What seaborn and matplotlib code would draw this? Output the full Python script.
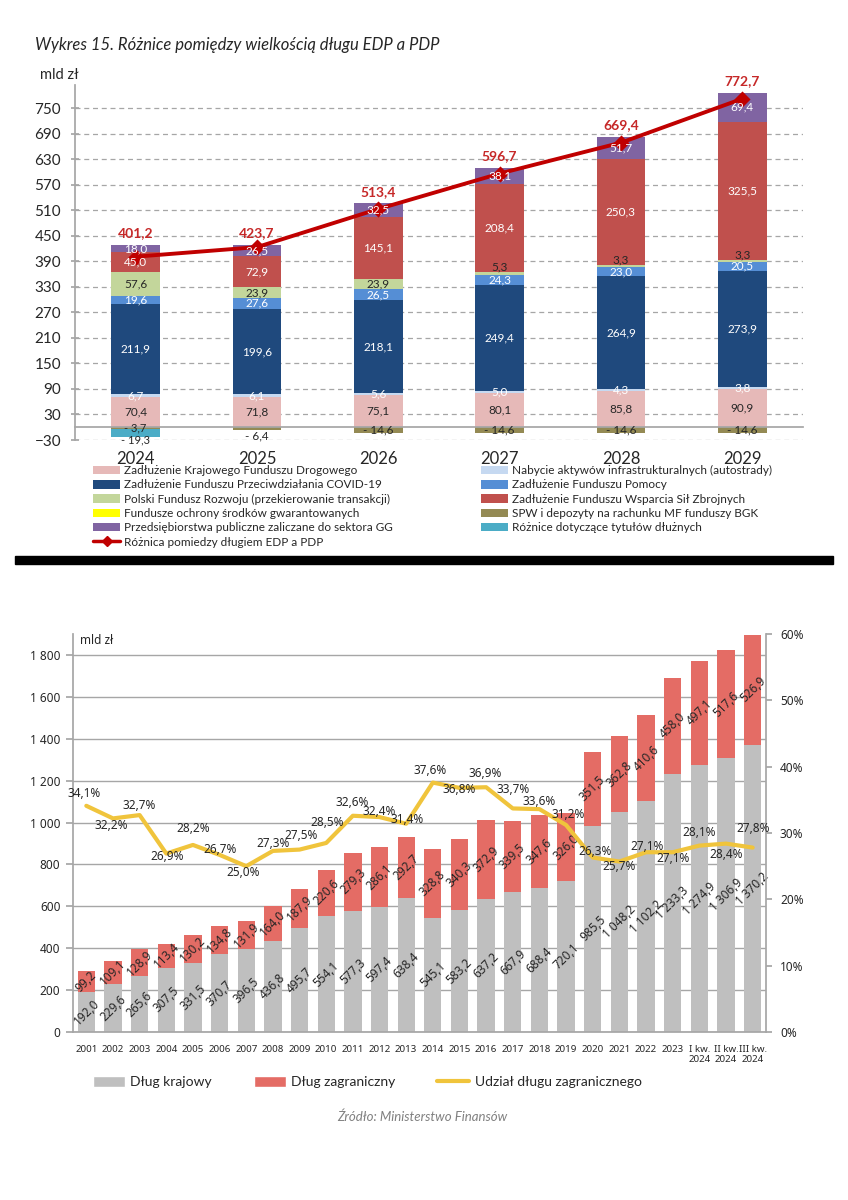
import numpy as np
import matplotlib
matplotlib.use("Agg")
import matplotlib.pyplot as plt
import seaborn as sns
from matplotlib.patches import Rectangle, Patch
from matplotlib.lines import Line2D
from matplotlib.ticker import FixedLocator, FuncFormatter

# ---------------- top chart data ----------------
years_top = ["2024", "2025", "2026", "2027", "2028", "2029"]
kfd = [70.4, 71.8, 75.1, 80.1, 85.8, 90.9]
autostrady = [6.7, 6.1, 5.6, 5.0, 4.3, 3.8]
covid = [211.9, 199.6, 218.1, 249.4, 264.9, 273.9]
pomocy = [19.6, 27.6, 26.5, 24.3, 23.0, 20.5]
pfr = [57.6, 23.9, 23.9, 5.3, 3.3, 3.3]
ochrona = [0.0, 0.0, 0.0, 0.0, 0.0, 0.0]
fwsz = [45.0, 72.9, 145.1, 208.4, 250.3, 325.5]
przeds = [18.0, 26.5, 32.5, 38.1, 51.7, 69.4]
spw_bgk = [-3.7, -6.4, -14.6, -14.6, -14.6, -14.6]
tytuly = [-19.3, 0.0, 0.0, 0.0, 0.0, 0.0]
edp_pdp = [401.2, 423.7, 513.4, 596.7, 669.4, 772.7]

# ---------------- bottom chart data ----------------
periods = [str(y) for y in range(2001, 2024)] + ["I kw.\n2024", "II kw.\n2024", "III kw.\n2024"]
dlug_krajowy = [192.0, 229.6, 265.6, 307.5, 331.5, 370.7, 396.5, 436.8, 495.7, 554.1,
                577.3, 597.4, 638.4, 545.1, 583.2, 637.2, 667.9, 688.4, 720.1, 985.5,
                1048.2, 1102.2, 1233.3, 1274.9, 1306.9, 1370.2]
dlug_zagraniczny = [99.2, 109.1, 128.9, 113.4, 130.2, 134.8, 131.9, 164.0, 187.9, 220.6,
                    279.3, 286.1, 292.7, 328.8, 340.3, 372.9, 339.5, 347.6, 326.0, 351.5,
                    362.8, 410.6, 458.0, 497.1, 517.6, 526.9]
udzial = [34.1, 32.2, 32.7, 26.9, 28.2, 26.7, 25.0, 27.3, 27.5, 28.5, 32.6, 32.4, 31.4,
          37.6, 36.8, 36.9, 33.7, 33.6, 31.2, 26.3, 25.7, 27.1, 27.1, 28.1, 28.4, 27.8]

# label placement (style): offsets of percentage labels in pixels
pct_dx = [-2, -2, 0, 1, 0, 0, -3, 0, 2, 1, -1, 0, 1, -3, 0, -1, 0, 0, 2, 2, 0, 1, 0, 0, 0, 0]
pct_dy = [12, -7, 10, -3, 16, 5, -6, 7, 14, 20, 13, 6, 4, 12, -2, 14, 19, 8, 11, 6, -5, 6, -6, 13, -11, 19]

sns.set_theme(style="white")
plt.rcParams["font.family"] = ["Lato", "DejaVu Sans"]

W, H = 848, 1200
fig = plt.figure(figsize=(W / 100, H / 100), dpi=100)
fig.patch.set_facecolor("white")

def fx(px):
    return px / W

def fy(py):
    return 1 - py / H

def fmt(v):
    s = f"{abs(v):.1f}".replace(".", ",")
    return ("- " + s) if v < 0 else s

GRID = "#A6A6A6"
DARK = "#262626"

# ================= TOP CHART =================
ax1 = fig.add_axes([fx(75), fy(440), fx(728), 355 / H])

pos_series = [
    (kfd, "Zadłużenie Krajowego Funduszu Drogowego", "#E6B9B8", DARK),
    (autostrady, "Nabycie aktywów infrastrukturalnych (autostrady)", "#C6D9F1", "white"),
    (covid, "Zadłużenie Funduszu Przeciwdziałania COVID-19", "#1F497D", "white"),
    (pomocy, "Zadłużenie Funduszu Pomocy", "#558ED5", "white"),
    (pfr, "Polski Fundusz Rozwoju (przekierowanie transakcji)", "#C3D69B", DARK),
    (ochrona, "Fundusze ochrony środków gwarantowanych", "#FFFF00", DARK),
    (fwsz, "Zadłużenie Funduszu Wsparcia Sił Zbrojnych", "#C0504D", "white"),
    (przeds, "Przedsiębiorstwa publiczne zaliczane do sektora GG", "#8064A2", "white"),
]
neg_series = [
    (spw_bgk, "SPW i depozyty na rachunku MF funduszy BGK", "#948A54", DARK),
    (tytuly, "Różnice dotyczące tytułów dłużnych", "#4BACC6", DARK),
]

n_top = len(years_top)
bottoms = []
cum = np.zeros(n_top)
for vals, _, _, _ in pos_series:
    bottoms.append(cum.copy())
    cum = cum + np.array(vals)
tops = cum

nbottoms = []
ncum = np.zeros(n_top)
for vals, _, _, _ in neg_series:
    nbottoms.append(ncum.copy())
    ncum = ncum + np.array(vals)

bw = 0.4
for k in reversed(range(len(pos_series))):
    vals, name, col, _ = pos_series[k]
    sns.barplot(x=years_top, y=bottoms[k] + np.array(vals), color=col, width=bw,
                saturation=1, errorbar=None, linewidth=0, ax=ax1)
for k in reversed(range(len(neg_series))):
    vals, name, col, _ = neg_series[k]
    sns.barplot(x=years_top, y=nbottoms[k] + np.array(vals), color=col, width=bw,
                saturation=1, errorbar=None, linewidth=0, ax=ax1)

sns.pointplot(x=years_top, y=edp_pdp, color="#C00000", markers="D", markersize=6,
              linewidth=2.8, errorbar=None, ax=ax1)

# segment labels
for k, (vals, name, col, tcol) in enumerate(pos_series):
    for i, v in enumerate(vals):
        if v == 0:
            continue
        b = bottoms[k][i]
        if name.startswith("Polski") and v < 10:
            ax1.text(i, b + v - 1, fmt(v), color=tcol, ha="center", va="bottom", fontsize=8.5)
        else:
            ax1.text(i, b + v / 2, fmt(v), color=tcol, ha="center", va="center", fontsize=8.5)
for k, (vals, name, col, tcol) in enumerate(neg_series):
    for i, v in enumerate(vals):
        if v == 0:
            continue
        b = nbottoms[k][i]
        if k == 0 and abs(v) < 10 and tytuly[i] == 0:
            ax1.text(i, b + v - 2, fmt(v), color=tcol, ha="center", va="top", fontsize=8.5)
        elif k == 0 and abs(v) < 10:
            ax1.text(i, b + v + 3, fmt(v), color=tcol, ha="center", va="center", fontsize=8)
        elif k == 1:
            ax1.text(i, b + v / 2 - 3, fmt(v), color=tcol, ha="center", va="top", fontsize=8)
        else:
            ax1.text(i, b + v / 2, fmt(v), color=tcol, ha="center", va="center", fontsize=8.5)

for i, t in enumerate(edp_pdp):
    ax1.annotate(f"{t:.1f}".replace(".", ","), (i, tops[i]), xytext=(0, 4),
                 textcoords="offset points", ha="center", va="bottom",
                 color="#C62828", fontsize=10, fontweight="bold")

ax1.set_xlim(-0.5, n_top - 0.5)
ax1.set_ylim(-30, 805)
ax1.set_yticks(np.arange(-30, 751, 60))
ax1.yaxis.grid(True, linestyle=(0, (4, 3)), color=GRID, linewidth=0.9)
ax1.xaxis.grid(False)
ax1.set_axisbelow(True)
for s in ["top", "right"]:
    ax1.spines[s].set_visible(False)
ax1.spines["left"].set_color(GRID)
ax1.spines["bottom"].set_color(GRID)
ax1.spines["bottom"].set_position(("data", 0))
ax1.xaxis.set_minor_locator(FixedLocator(np.arange(-0.5, n_top, 1)))
ax1.tick_params(axis="x", which="major", length=0, pad=17, labelsize=12, labelcolor=DARK)
ax1.tick_params(axis="x", which="minor", length=4, direction="out", color=GRID, width=1)
ax1.tick_params(axis="y", which="major", length=6, direction="inout", color=GRID,
                pad=7, labelsize=11, labelcolor=DARK, left=True)
ax1.set_xlabel("")
ax1.set_ylabel("")

fig.text(fx(35), fy(45), "Wykres 15. Różnice pomiędzy wielkością długu EDP a PDP",
         fontsize=12, style="italic", color=DARK, va="center", ha="left")
fig.text(fx(40), fy(75), "mld zł", fontsize=10.5, color=DARK, va="center", ha="left")

# legends of top chart
h = {name: Patch(facecolor=col, edgecolor="none") for vals, name, col, _ in pos_series + neg_series}
line_h = Line2D([0], [0], color="#C00000", lw=2.5, marker="D", markersize=5)
left_names = [pos_series[0][1], pos_series[2][1], pos_series[4][1], pos_series[5][1], pos_series[7][1]]
right_names = [pos_series[1][1], pos_series[3][1], pos_series[6][1], neg_series[0][1], neg_series[1][1]]
leg_kw = dict(frameon=False, fontsize=8.5, handlelength=2.3, handleheight=0.75,
              handletextpad=0.3, labelspacing=0.28, borderpad=0, borderaxespad=0)
lg1 = fig.legend([h[n] for n in left_names] + [line_h],
                 left_names + ["Różnica pomiedzy długiem EDP a PDP"],
                 loc="upper left", bbox_to_anchor=(fx(93), fy(465)), **leg_kw)
lg2 = fig.legend([h[n] for n in right_names], right_names,
                 loc="upper left", bbox_to_anchor=(fx(481), fy(465)), **leg_kw)
for lg in (lg1, lg2):
    for t in lg.get_texts():
        t.set_color(DARK)

# separator
fig.add_artist(Rectangle((fx(15), fy(564)), fx(818), 8 / H, transform=fig.transFigure,
                         color="black", zorder=10))

# ================= BOTTOM CHART =================
ax = fig.add_axes([fx(73), fy(1032), fx(693), 398 / H])
GRAY = "#BFBFBF"
RED = "#E46C65"
YEL = "#F0C43C"
n = len(periods)
total = np.array(dlug_krajowy) + np.array(dlug_zagraniczny)
sns.barplot(x=periods, y=total, color=RED, width=0.65, saturation=1, errorbar=None,
            linewidth=0, ax=ax)
sns.barplot(x=periods, y=dlug_krajowy, color=GRAY, width=0.65, saturation=1, errorbar=None,
            linewidth=0, ax=ax)

BF = ["Noto Sans", "DejaVu Sans"]
for i in range(n):
    d = dlug_krajowy[i]
    f = dlug_zagraniczny[i]
    ax.text(i, d / 2, f"{d:,.1f}".replace(",", " ").replace(".", ","), rotation=45,
            ha="center", va="center", fontsize=8.5, color=DARK, family=BF,
            rotation_mode="anchor")
    ax.text(i, d + f / 2, f"{f:.1f}".replace(".", ","), rotation=45,
            ha="center", va="center", fontsize=8.5, color=DARK, family=BF,
            rotation_mode="anchor")

ax.set_ylim(0, 1900)
ax.set_yticks(np.arange(0, 1801, 200))
ax.yaxis.set_major_formatter(FuncFormatter(lambda v, p: f"{int(v):,}".replace(",", " ")))
ax.yaxis.grid(True, color=GRID, linewidth=1)
ax.xaxis.grid(False)
ax.set_axisbelow(True)
for s in ["top", "right"]:
    ax.spines[s].set_visible(False)
ax.spines["left"].set_color(GRID)
ax.spines["bottom"].set_color(GRID)
ax.xaxis.set_minor_locator(FixedLocator(np.arange(-0.5, n, 1)))
ax.tick_params(axis="x", which="major", length=0, pad=9, labelsize=7, labelcolor=DARK)
ax.tick_params(axis="x", which="minor", length=4, direction="out", color=GRID)
ax.tick_params(axis="y", length=5, direction="out", color=GRID, pad=4, labelsize=8.5,
               labelcolor=DARK, left=True)
ax.set_xlabel("")
ax.set_ylabel("")

ax2 = ax.twinx()
sns.lineplot(x=np.arange(n), y=np.array(udzial) / 100, color=YEL, linewidth=3, ax=ax2)
for i, v in enumerate(udzial):
    ax2.annotate(f"{v:.1f}%".replace(".", ","), (i, v / 100), xytext=(pct_dx[i], pct_dy[i]),
                 textcoords="offset pixels", ha="center", va="center", fontsize=8.5,
                 color=DARK, family=BF)
ax2.set_ylim(0, 0.6)
ax2.set_yticks(np.arange(0, 0.61, 0.1))
ax2.yaxis.set_major_formatter(FuncFormatter(lambda v, p: f"{round(v * 100)}%"))
for s in ["top", "left", "bottom"]:
    ax2.spines[s].set_visible(False)
ax2.spines["right"].set_color(GRID)
ax2.tick_params(axis="y", length=4, direction="out", color=GRID, pad=6, labelsize=8.5,
                labelcolor=DARK, right=True)
ax2.grid(False)
ax2.set_ylabel("")
ax.set_xlim(-0.5, n - 0.5)
ax2.set_xlim(-0.5, n - 0.5)
ax.set_xticks(np.arange(n), periods, fontfamily=BF, fontsize=7, color=DARK)
for t in ax.get_yticklabels() + ax2.get_yticklabels():
    t.set_family(BF)

fig.text(fx(80), fy(640), "mld zł", fontsize=8.5, color=DARK, va="center", ha="left", family=BF)

lg3 = fig.legend([Patch(facecolor=GRAY), Patch(facecolor=RED), Line2D([0], [0], color=YEL, lw=3)],
                 ["Dług krajowy", "Dług zagraniczny", "Udział długu zagranicznego"],
                 loc="center left", bbox_to_anchor=(fx(93), fy(1082)), ncol=3, frameon=False,
                 fontsize=10, handlelength=2.3, handleheight=0.8, handletextpad=0.4,
                 columnspacing=3.0, borderpad=0, borderaxespad=0)
for t in lg3.get_texts():
    t.set_color(DARK)

fig.text(fx(422), fy(1117), "Źródło: Ministerstwo Finansów", fontsize=9.5, style="italic",
         color="#808080", ha="center", va="center")

fig.savefig("out.png", dpi=100, facecolor="white")
